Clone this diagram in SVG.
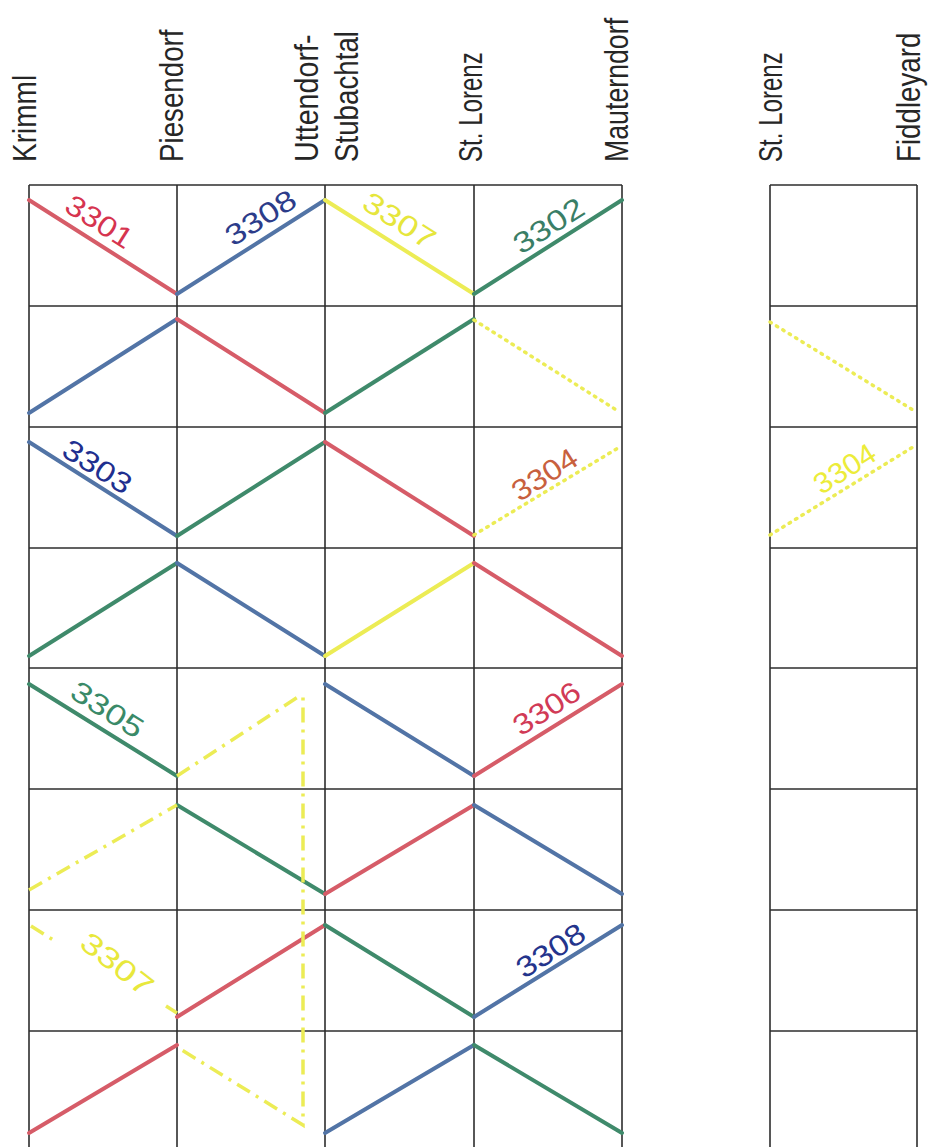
<svg xmlns="http://www.w3.org/2000/svg" width="929" height="1147" viewBox="0 0 929 1147">
<style>
.hdr{font-family:"Liberation Sans",Arial,sans-serif;font-size:33px;fill:#262626}
.grid{stroke:#2e2e2e;stroke-width:1.6;fill:none}
.ln{stroke-width:4;stroke-linecap:round;fill:none}
.r{stroke:#d65c68}.b{stroke:#5274a6}.g{stroke:#3f8a6b}.y{stroke:#ecec55}
.dot{stroke-width:3.5;stroke-dasharray:1.5 6}
.dd{stroke-width:3.5;stroke-linecap:butt;stroke-dasharray:15 7 3 7}
.lbl{font-family:"Liberation Sans",Arial,sans-serif;font-size:29px;text-anchor:middle}
</style>
<rect width="929" height="1147" fill="#ffffff"/>
<g id="headers">
<text class="hdr" transform="translate(36,162) rotate(-90) scale(0.85,1)">Krimml</text>
<text class="hdr" transform="translate(183,162) rotate(-90) scale(0.84,1)">Piesendorf</text>
<text class="hdr" transform="translate(318,162) rotate(-90) scale(0.87,1)">Uttendorf-</text>
<text class="hdr" transform="translate(358,162) rotate(-90) scale(0.84,1)">Stubachtal</text>
<text class="hdr" transform="translate(482,162) rotate(-90) scale(0.73,1)">St. Lorenz</text>
<text class="hdr" transform="translate(628,162) rotate(-90) scale(0.81,1)">Mauterndorf</text>
<text class="hdr" transform="translate(782,162) rotate(-90) scale(0.73,1)">St. Lorenz</text>
<text class="hdr" transform="translate(920,162) rotate(-90) scale(0.84,1)">Fiddleyard</text>
</g>
<g id="grid-main" class="grid">
<path d="M29,185V1147M177,185V1147M325,185V1147M474,185V1147M622,185V1147"/>
<path d="M29,185H622M29,306H622M29,427H622M29,548H622M29,668H622M29,789H622M29,910H622M29,1031H622"/>
</g>
<g id="grid-fiddleyard" class="grid">
<path d="M770,185V1147M917,185V1147"/>
<path d="M770,185H917M770,306H917M770,427H917M770,548H917M770,668H917M770,789H917M770,910H917M770,1031H917"/>
</g>
<g id="connectors">
<path class="ln r" d="M29,200L177,294"/>
<path class="ln b" d="M177,294L325,200"/>
<path class="ln y" d="M325,200L474,294"/>
<path class="ln g" d="M474,294L622,200"/>
<path class="ln b" d="M29,413L177,319"/>
<path class="ln r" d="M177,319L325,413"/>
<path class="ln g" d="M325,413L474,319"/>
<path class="ln y dot" d="M474,320L618,411"/>
<path class="ln b" d="M29,442L177,536"/>
<path class="ln g" d="M177,536L325,442"/>
<path class="ln r" d="M325,442L474,536"/>
<path class="ln y dot" d="M474,535L618,448"/>
<path class="ln g" d="M29,656L177,563"/>
<path class="ln b" d="M177,563L325,656"/>
<path class="ln y" d="M325,656L474,563"/>
<path class="ln r" d="M474,563L622,656"/>
<path class="ln g" d="M29,684L177,776"/>
<path class="ln b" d="M325,684L474,776"/>
<path class="ln r" d="M474,776L622,684"/>
<path class="ln g" d="M177,805L325,894"/>
<path class="ln r" d="M325,894L474,805"/>
<path class="ln b" d="M474,805L622,894"/>
<path class="ln r" d="M177,1017L325,925"/>
<path class="ln g" d="M325,925L474,1017"/>
<path class="ln b" d="M474,1017L622,925"/>
<path class="ln r" d="M29,1133L177,1045"/>
<path class="ln b" d="M325,1133L474,1045"/>
<path class="ln g" d="M474,1045L622,1133"/>
<path class="ln y dd" d="M177,776L298,697L303,697L303,1125L177,1047"/>
<path class="ln y dd" d="M29,890L177,805"/>
<path class="ln y dd" d="M31,926L58,943"/>
<path class="ln y dd" d="M166,1006L177,1013"/>
<path class="ln y dot" d="M770,322L913,410"/>
<path class="ln y dot" d="M770,535L913,447"/>
</g>
<g id="labels">
<text class="lbl" fill="#d6344f" transform="translate(94,230) rotate(32.4)" textLength="74" lengthAdjust="spacingAndGlyphs">3301</text>
<text class="lbl" fill="#2c3c8a" transform="translate(266,226) rotate(-32.4)" textLength="78" lengthAdjust="spacingAndGlyphs">3308</text>
<text class="lbl" fill="#e6e63c" transform="translate(394,229) rotate(32.4)" textLength="80" lengthAdjust="spacingAndGlyphs">3307</text>
<text class="lbl" fill="#3a7e66" transform="translate(554,234) rotate(-32.4)" textLength="78" lengthAdjust="spacingAndGlyphs">3302</text>
<text class="lbl" fill="#1f2f8f" transform="translate(92,475) rotate(32.4)" textLength="76" lengthAdjust="spacingAndGlyphs">3303</text>
<text class="lbl" fill="#c8603e" transform="translate(550,483) rotate(-32.4)" textLength="72" lengthAdjust="spacingAndGlyphs">3304</text>
<text class="lbl" fill="#3a8a68" transform="translate(102,718) rotate(32.4)" textLength="80" lengthAdjust="spacingAndGlyphs">3305</text>
<text class="lbl" fill="#d13a56" transform="translate(552,717) rotate(-32.4)" textLength="74" lengthAdjust="spacingAndGlyphs">3306</text>
<text class="lbl" fill="#e8e83c" transform="translate(111,972) rotate(38)" textLength="84" lengthAdjust="spacingAndGlyphs">3307</text>
<text class="lbl" fill="#24348c" transform="translate(556,959) rotate(-32.4)" textLength="76" lengthAdjust="spacingAndGlyphs">3308</text>
<text class="lbl" fill="#ecec3a" transform="translate(850,477) rotate(-32.4)" textLength="68" lengthAdjust="spacingAndGlyphs">3304</text>
</g>
</svg>
